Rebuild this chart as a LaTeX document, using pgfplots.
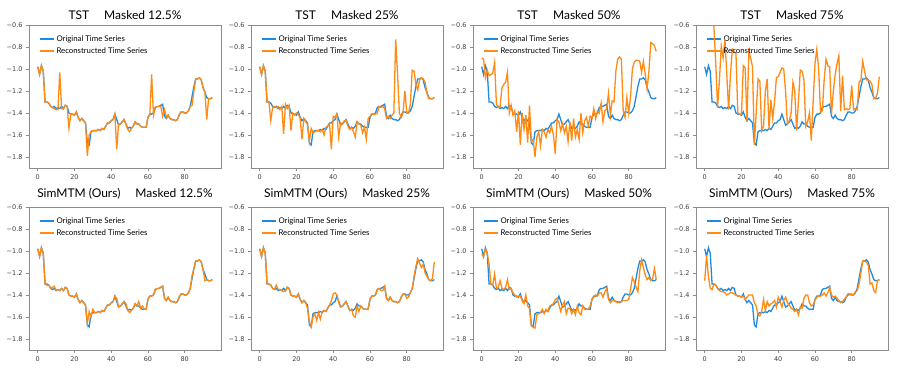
\documentclass[border=0pt]{standalone}
\usepackage{pgfplots}
\pgfplotsset{compat=1.18}
\usepackage{pgfplotstable}
\usepackage{fontspec}
\setmainfont{Lato}
\newfontfamily\tickfont{DejaVu Sans}
\definecolor{oblue}{HTML}{1F8BE0}
\definecolor{rorange}{HTML}{FF8A14}
\pgfplotstableread{
x o a b c d e f g h
0 -0.98 -0.98 -0.98 -0.90 -0.20 -0.98 -0.98 -1.03 -1.27
1 -1.05 -1.05 -1.05 -0.91 -0.25 -1.05 -1.05 -1.05 -1.04
2 -0.97 -0.97 -0.97 -1.08 -0.30 -0.97 -0.97 -0.98 -1.23
3 -1.02 -1.02 -1.02 -1.01 -0.40 -1.02 -1.02 -1.02 -1.34
4 -1.30 -1.30 -1.30 -1.06 -0.50 -1.30 -1.30 -1.12 -1.35
5 -1.30 -1.30 -1.30 -1.05 -0.62 -1.31 -1.30 -1.30 -1.30
6 -1.31 -1.31 -1.47 -1.04 -0.95 -1.31 -1.31 -1.31 -1.31
7 -1.34 -1.34 -1.35 -0.94 -1.35 -1.34 -1.34 -1.21 -1.34
8 -1.35 -1.35 -1.34 -1.32 -1.10 -1.33 -1.35 -1.34 -1.36
9 -1.34 -1.36 -1.35 -1.35 -0.79 -1.32 -1.31 -1.33 -1.37
10 -1.36 -1.37 -1.34 -1.34 -0.90 -1.36 -1.35 -1.27 -1.37
11 -1.35 -1.37 -1.37 -1.17 -0.73 -1.35 -1.35 -1.34 -1.38
12 -1.36 -1.03 -1.34 -1.14 -1.05 -1.36 -1.36 -1.35 -1.40
13 -1.34 -1.36 -1.59 -1.12 -1.37 -1.34 -1.37 -1.33 -1.39
14 -1.36 -1.36 -1.32 -1.03 -1.05 -1.36 -1.36 -1.26 -1.38
15 -1.33 -1.33 -1.36 -1.40 -0.82 -1.33 -1.33 -1.35 -1.38
16 -1.34 -1.34 -1.33 -1.33 -0.84 -1.34 -1.34 -1.34 -1.39
17 -1.40 -1.54 -1.56 -1.42 -0.86 -1.40 -1.40 -1.38 -1.40
18 -1.41 -1.41 -1.40 -1.38 -1.40 -1.41 -1.41 -1.40 -1.41
19 -1.41 -1.41 -1.42 -1.57 -1.41 -1.41 -1.41 -1.42 -1.41
20 -1.42 -1.42 -1.40 -1.38 -1.41 -1.42 -1.42 -1.41 -1.42
21 -1.39 -1.39 -1.41 -1.69 -0.97 -1.39 -1.39 -1.41 -1.41
22 -1.44 -1.44 -1.45 -1.40 -0.99 -1.44 -1.44 -1.45 -1.44
23 -1.47 -1.47 -1.64 -1.55 -1.48 -1.47 -1.47 -1.48 -1.42
24 -1.45 -1.45 -1.45 -1.42 -0.84 -1.45 -1.45 -1.40 -1.40
25 -1.47 -1.47 -1.48 -1.67 -0.90 -1.47 -1.47 -1.50 -1.40
26 -1.49 -1.49 -1.50 -1.33 -0.98 -1.49 -1.52 -1.52 -1.40
27 -1.67 -1.79 -1.66 -1.66 -1.69 -1.66 -1.64 -1.68 -1.47
28 -1.69 -1.60 -1.54 -1.64 -1.40 -1.55 -1.69 -1.69 -1.50
29 -1.57 -1.57 -1.58 -1.80 -1.09 -1.60 -1.60 -1.70 -1.58
30 -1.56 -1.56 -1.57 -1.62 -1.11 -1.53 -1.57 -1.58 -1.59
31 -1.56 -1.56 -1.56 -1.57 -1.56 -1.56 -1.63 -1.57 -1.55
32 -1.56 -1.56 -1.56 -1.70 -1.52 -1.56 -1.56 -1.56 -1.44
33 -1.55 -1.55 -1.57 -1.55 -1.20 -1.55 -1.62 -1.53 -1.54
34 -1.56 -1.56 -1.55 -1.57 -1.09 -1.56 -1.55 -1.57 -1.46
35 -1.54 -1.54 -1.60 -1.62 -1.55 -1.54 -1.54 -1.53 -1.50
36 -1.55 -1.55 -1.53 -1.55 -1.28 -1.55 -1.55 -1.55 -1.48
37 -1.52 -1.52 -1.52 -1.58 -1.45 -1.52 -1.52 -1.50 -1.47
38 -1.49 -1.49 -1.50 -1.52 -1.30 -1.49 -1.49 -1.49 -1.45
39 -1.49 -1.49 -1.73 -1.60 -1.08 -1.49 -1.45 -1.48 -1.51
40 -1.47 -1.47 -1.43 -1.77 -1.07 -1.47 -1.39 -1.44 -1.42
41 -1.46 -1.46 -1.44 -1.46 -1.03 -1.46 -1.38 -1.43 -1.46
42 -1.41 -1.41 -1.41 -1.48 -0.99 -1.41 -1.40 -1.49 -1.51
43 -1.46 -1.73 -1.62 -1.56 -1.00 -1.43 -1.47 -1.55 -1.45
44 -1.51 -1.50 -1.49 -1.50 -1.20 -1.51 -1.51 -1.49 -1.42
45 -1.50 -1.50 -1.50 -1.58 -1.50 -1.50 -1.50 -1.46 -1.47
46 -1.48 -1.48 -1.47 -1.52 -1.47 -1.48 -1.48 -1.57 -1.49
47 -1.46 -1.46 -1.47 -1.66 -1.40 -1.46 -1.46 -1.52 -1.52
48 -1.50 -1.50 -1.52 -1.48 -1.12 -1.48 -1.50 -1.52 -1.53
49 -1.54 -1.55 -1.55 -1.65 -1.20 -1.54 -1.54 -1.57 -1.55
50 -1.53 -1.57 -1.53 -1.45 -1.56 -1.56 -1.53 -1.53 -1.53
51 -1.54 -1.54 -1.57 -1.62 -1.30 -1.54 -1.59 -1.58 -1.58
52 -1.52 -1.52 -1.62 -1.55 -1.01 -1.52 -1.60 -1.50 -1.51
53 -1.48 -1.48 -1.48 -1.64 -1.02 -1.48 -1.50 -1.56 -1.52
54 -1.50 -1.50 -1.50 -1.40 -1.10 -1.50 -1.55 -1.58 -1.43
55 -1.50 -1.50 -1.51 -1.58 -1.52 -1.46 -1.50 -1.50 -1.40
56 -1.52 -1.52 -1.58 -1.47 -1.48 -1.52 -1.52 -1.53 -1.40
57 -1.53 -1.53 -1.53 -1.44 -1.40 -1.50 -1.53 -1.53 -1.47
58 -1.53 -1.53 -1.64 -1.52 -1.65 -1.53 -1.53 -1.53 -1.50
59 -1.53 -1.53 -1.45 -1.43 -1.30 -1.53 -1.53 -1.50 -1.49
60 -1.44 -1.44 -1.43 -1.45 -0.95 -1.44 -1.44 -1.44 -1.45
61 -1.41 -1.42 -1.41 -1.36 -0.82 -1.41 -1.41 -1.42 -1.42
62 -1.41 -1.05 -1.41 -1.45 -1.00 -1.41 -1.41 -1.40 -1.41
63 -1.40 -1.42 -1.41 -1.38 -1.39 -1.40 -1.40 -1.41 -1.41
64 -1.35 -1.35 -1.40 -1.40 -1.38 -1.35 -1.35 -1.38 -1.40
65 -1.34 -1.34 -1.34 -1.31 -1.10 -1.34 -1.34 -1.38 -1.38
66 -1.34 -1.34 -1.35 -1.48 -0.91 -1.34 -1.36 -1.42 -1.41
67 -1.33 -1.34 -1.34 -1.38 -0.97 -1.33 -1.36 -1.37 -1.38
68 -1.32 -1.43 -1.36 -1.36 -0.98 -1.32 -1.32 -1.34 -1.33
69 -1.43 -1.37 -1.45 -1.22 -1.41 -1.43 -1.43 -1.44 -1.40
70 -1.45 -1.44 -1.43 -1.42 -1.20 -1.45 -1.45 -1.47 -1.42
71 -1.42 -1.42 -1.45 -1.29 -1.05 -1.42 -1.42 -1.45 -1.41
72 -1.45 -1.45 -1.42 -1.30 -0.95 -1.45 -1.45 -1.45 -1.43
73 -1.46 -1.46 -1.40 -1.02 -0.88 -1.46 -1.46 -1.46 -1.45
74 -1.46 -1.46 -0.73 -0.91 -1.38 -1.46 -1.46 -1.47 -1.47
75 -1.47 -1.47 -1.04 -0.89 -1.06 -1.47 -1.47 -1.46 -1.46
76 -1.46 -1.46 -1.40 -0.91 -1.37 -1.46 -1.46 -1.46 -1.44
77 -1.42 -1.42 -1.44 -1.38 -1.36 -1.42 -1.42 -1.45 -1.42
78 -1.39 -1.39 -1.40 -1.44 -1.37 -1.39 -1.39 -1.45 -1.40
79 -1.39 -1.39 -1.20 -1.26 -1.36 -1.39 -1.39 -1.45 -1.40
80 -1.40 -1.40 -1.39 -1.40 -1.15 -1.40 -1.43 -1.44 -1.39
81 -1.40 -1.40 -1.40 -1.25 -1.37 -1.40 -1.42 -1.35 -1.40
82 -1.38 -1.38 -1.32 -1.00 -1.36 -1.38 -1.38 -1.24 -1.37
83 -1.34 -1.34 -1.01 -0.94 -1.37 -1.34 -1.34 -1.28 -1.36
84 -1.25 -1.33 -1.02 -0.92 -1.12 -1.22 -1.23 -1.33 -1.30
85 -1.16 -1.20 -1.14 -0.92 -1.10 -1.16 -1.14 -1.37 -1.20
86 -1.09 -1.09 -1.19 -0.93 -0.93 -1.09 -1.07 -1.18 -1.09
87 -1.09 -1.09 -1.10 -1.03 -1.02 -1.09 -1.11 -1.08 -1.09
88 -1.08 -1.08 -1.08 -0.93 -1.10 -1.08 -1.15 -1.15 -1.10
89 -1.10 -1.10 -1.09 -1.05 -1.10 -1.10 -1.12 -1.22 -1.13
90 -1.17 -1.17 -1.12 -1.18 -1.11 -1.17 -1.20 -1.26 -1.30
91 -1.21 -1.21 -1.22 -1.02 -1.14 -1.27 -1.23 -1.24 -1.29
92 -1.26 -1.46 -1.27 -0.76 -1.27 -1.26 -1.26 -1.27 -1.36
93 -1.27 -1.27 -1.27 -0.77 -1.27 -1.27 -1.27 -1.25 -1.38
94 -1.27 -1.27 -1.27 -0.79 -1.22 -1.27 -1.25 -1.16 -1.27
95 -1.26 -1.26 -1.26 -0.84 -1.07 -1.26 -1.10 -1.26 -1.26
}\data

\pgfplotsset{
  frame/.style={
  scale only axis, width=192pt, height=143pt,
  xmin=-4.75, xmax=99.75, ymin=-1.9, ymax=-0.6,
  legend style={draw=none, fill=none, anchor=north west,
     font=\fontsize{7.8}{9}\selectfont},
  },
  panel/.style={frame,
  xtick={0,20,40,60,80}, xticklabels={0,20,40,60,80},
  ytick={-1.8,-1.6,-1.4,-1.2,-1.0,-0.8,-0.6},
  yticklabels={−1.8,−1.6,−1.4,−1.2,−1.0,−0.8,−0.6},
  tick align=outside, tick pos=left, major tick length=3pt,
  axis line style={draw=black!45, line width=0.8pt},
  tick style={draw=black!45, line width=0.6pt},
  ticklabel style={font=\tickfont\fontsize{6.5}{7}\selectfont, text=black!75},
  title style={font=\fontsize{12}{14}\selectfont, anchor=base, at={(0.5,1)}},
  legend style={at={(0.035,0.955)}},
  },
  overlay/.style={frame, hide axis, legend style={at={(0.035,0.871)}}},
}

\newcommand{\panel}[5]{%
\begin{axis}[panel, at={(#1pt,#2pt)}, anchor=south west, title={#4}, title style={yshift=#3pt}]
\addlegendimage{legend image code/.code={\draw[draw=oblue, line width=1.6pt] (0pt,0pt) -- (14pt,0pt);}}
\addlegendentry{Original Time Series}
\addplot[draw=oblue, line width=1.3pt, forget plot] table[x=x,y=o]{\data};
\end{axis}
\begin{axis}[overlay, at={(#1pt,#2pt)}, anchor=south west]
\addlegendimage{legend image code/.code={\draw[draw=rorange, line width=1.6pt] (0pt,0pt) -- (14pt,0pt);}}
\addlegendentry{Reconstructed Time Series}
\addplot[draw=rorange, line width=1.3pt, forget plot] table[x=x,y=#5]{\data};
\end{axis}}

\begin{document}
\begin{tikzpicture}
\useasboundingbox (0,0) rectangle (897pt,368pt);
\panel{29}{200}{0}{TST\hspace{15pt}Masked 12.5\%}{a}
\panel{251}{200}{0}{TST\hspace{15pt}Masked 25\%}{b}
\panel{473}{200}{0}{TST\hspace{15pt}Masked 50\%}{c}
\panel{696}{200}{0}{TST\hspace{15pt}Masked 75\%}{d}
\panel{29}{18}{4}{SimMTM (Ours)\hspace{15pt}Masked 12.5\%}{e}
\panel{251}{18}{4}{SimMTM (Ours)\hspace{15pt}Masked 25\%}{f}
\panel{473}{18}{4}{SimMTM (Ours)\hspace{15pt}Masked 50\%}{g}
\panel{696}{18}{4}{SimMTM (Ours)\hspace{15pt}Masked 75\%}{h}
\end{tikzpicture}
\end{document}
